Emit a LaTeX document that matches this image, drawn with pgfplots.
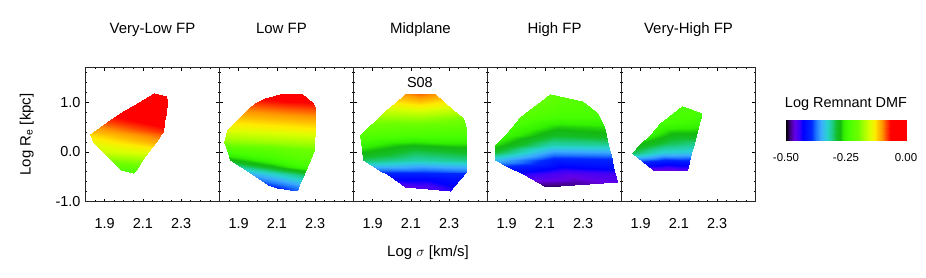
\documentclass[border=0pt]{standalone}
\usepackage{fontspec}
\setmainfont{Liberation Sans}
\usepackage{pgfplots}
\pgfplotsset{compat=1.18}
\pgfplotsset{
  colormap={dmf}{rgb255(0pt)=(0,0,0); rgb255(3pt)=(60,0,120); rgb255(7pt)=(100,0,230); rgb255(11pt)=(60,0,250); rgb255(14pt)=(0,0,255); rgb255(21pt)=(0,40,255); rgb255(25pt)=(30,120,255); rgb255(29pt)=(60,170,255); rgb255(34pt)=(40,210,210); rgb255(38pt)=(30,205,140); rgb255(42pt)=(20,190,40); rgb255(45pt)=(20,185,15); rgb255(48pt)=(50,240,0); rgb255(52pt)=(70,255,0); rgb255(60pt)=(110,255,0); rgb255(65pt)=(170,255,0); rgb255(70pt)=(220,255,0); rgb255(74pt)=(255,235,0); rgb255(77pt)=(255,190,0); rgb255(80pt)=(255,150,0); rgb255(84pt)=(255,60,0); rgb255(87pt)=(255,0,0); rgb255(100pt)=(255,0,0)},
  every axis/.append style={font=\fontsize{14.5}{17}\selectfont},
  panel/.style={
    width=134bp, height=134.4bp, scale only axis, anchor=south west,
    xmin=1.8, xmax=2.5, ymin=-1.0, ymax=1.7,
    xtick={1.9,2.1,2.3}, xticklabels={1.9,2.1,2.3},
    minor xtick={1.8,1.85,1.95,2.0,2.05,2.15,2.2,2.25,2.35,2.4,2.45,2.5},
    ytick={-1,0,1}, yticklabels={,,},
    minor ytick={-0.8,-0.6,-0.4,-0.2,0.2,0.4,0.6,0.8,1.2,1.4,1.6},
    tick align=inside, xtick pos=both, ytick pos=both,
    major tick length=3.2bp, minor tick length=1.8bp,
    tick style={black, line width=0.7bp},
    axis line style={black!85, line width=0.9bp},
    tick label style={font=\fontsize{14.5}{17}\selectfont},
    xticklabel style={yshift=-13bp},
    colormap name=dmf, point meta min=-0.5, point meta max=0,
    title style={at={(axis description cs:0.5,1)}, anchor=base, yshift=28.3bp, font=\fontsize{15}{18}\selectfont},
  },
  dmfsurf/.style={surf, shader=interp, mesh/cols=3, point meta=explicit},
}
\begin{document}
\begin{tikzpicture}
\path[use as bounding box] (0,0) rectangle (926bp,-278bp);

% Panel 1
\begin{axis}[panel, at={(85.5bp,-201.7bp)}, title={Very-Low FP},
  yticklabels={-1.0,0.0,1.0}, yticklabel style={xshift=-1.5bp},
  ylabel={Log R\textsubscript{e} [kpc]},
  ylabel style={at={(axis description cs:-0.439,0.5)}, anchor=center, font=\fontsize{15}{18}\selectfont}]
\addplot[dmfsurf] table[x=x, y=y, meta=c, row sep=\\] {
x y c\\
2.050 -0.430 -0.235\\ 2.050 -0.430 -0.235\\ 2.050 -0.430 -0.235\\
1.984 -0.363 -0.225\\ 2.023 -0.363 -0.223\\ 2.062 -0.363 -0.221\\
1.929 -0.150 -0.186\\ 2.015 -0.150 -0.182\\ 2.101 -0.150 -0.177\\
1.891 0.000 -0.158\\ 2.010 0.000 -0.152\\ 2.129 0.000 -0.146\\
1.838 0.205 -0.141\\ 2.002 0.205 -0.125\\ 2.166 0.205 -0.108\\
1.824 0.359 -0.123\\ 2.009 0.359 -0.104\\ 2.194 0.359 -0.086\\
1.841 0.406 -0.114\\ 2.022 0.406 -0.096\\ 2.203 0.406 -0.078\\
1.912 0.600 -0.082\\ 2.062 0.600 -0.067\\ 2.211 0.600 -0.052\\
1.980 0.787 -0.055\\ 2.099 0.787 -0.043\\ 2.218 0.787 -0.031\\
2.081 1.008 -0.028\\ 2.154 1.008 -0.025\\ 2.227 1.008 -0.021\\
2.133 1.122 -0.018\\ 2.177 1.122 -0.016\\ 2.221 1.122 -0.014\\
2.158 1.177 -0.015\\ 2.158 1.177 -0.015\\ 2.158 1.177 -0.015\\
};
\end{axis}

% Panel 2
\begin{axis}[panel, at={(219.5bp,-201.7bp)}, title={Low FP},
  title style={at={(axis description cs:0.462,1)}}]
\addplot[dmfsurf] table[x=x, y=y, meta=c, row sep=\\] {
x y c\\
2.203 -0.779 -0.379\\ 2.203 -0.779 -0.379\\ 2.203 -0.779 -0.379\\
2.099 -0.731 -0.400\\ 2.154 -0.731 -0.386\\ 2.208 -0.731 -0.373\\
2.055 -0.665 -0.392\\ 2.136 -0.665 -0.375\\ 2.216 -0.665 -0.357\\
1.969 -0.450 -0.351\\ 2.105 -0.450 -0.324\\ 2.240 -0.450 -0.297\\
1.910 -0.300 -0.313\\ 2.084 -0.300 -0.278\\ 2.257 -0.300 -0.244\\
1.855 -0.163 -0.279\\ 2.064 -0.163 -0.250\\ 2.272 -0.163 -0.221\\
1.839 0.038 -0.233\\ 2.067 0.038 -0.217\\ 2.295 0.038 -0.201\\
1.825 0.205 -0.188\\ 2.061 0.205 -0.181\\ 2.296 0.205 -0.174\\
1.838 0.440 -0.148\\ 2.068 0.440 -0.141\\ 2.297 0.440 -0.134\\
1.909 0.700 -0.114\\ 2.104 0.700 -0.108\\ 2.298 0.700 -0.102\\
1.956 0.875 -0.092\\ 2.128 0.875 -0.085\\ 2.299 0.875 -0.080\\
1.985 0.980 -0.078\\ 2.138 0.980 -0.070\\ 2.290 0.980 -0.066\\
2.038 1.076 -0.062\\ 2.149 1.076 -0.050\\ 2.259 1.076 -0.052\\
2.116 1.156 -0.052\\ 2.175 1.156 -0.040\\ 2.233 1.156 -0.045\\
};
\end{axis}

% Panel 3
\begin{axis}[panel, at={(353.5bp,-201.7bp)}, title={Midplane},
  xlabel={Log $\sigma$ [km/s]},
  xlabel style={at={(axis description cs:0.556,-0.382)}, anchor=center, font=\fontsize{15}{18}\selectfont}]
\addplot[dmfsurf] table[x=x, y=y, meta=c, row sep=\\] {
x y c\\
2.302 -0.785 -0.440\\ 2.302 -0.785 -0.440\\ 2.302 -0.785 -0.440\\
2.068 -0.699 -0.462\\ 2.194 -0.699 -0.452\\ 2.321 -0.699 -0.432\\
2.010 -0.550 -0.428\\ 2.183 -0.550 -0.428\\ 2.355 -0.550 -0.415\\
1.963 -0.430 -0.400\\ 2.173 -0.430 -0.400\\ 2.382 -0.430 -0.395\\
1.949 -0.397 -0.390\\ 2.169 -0.397 -0.390\\ 2.389 -0.397 -0.380\\
1.850 -0.163 -0.300\\ 2.120 -0.163 -0.318\\ 2.389 -0.163 -0.310\\
1.844 0.050 -0.265\\ 2.117 0.050 -0.290\\ 2.389 0.050 -0.280\\
1.836 0.339 -0.225\\ 2.113 0.339 -0.235\\ 2.389 0.339 -0.235\\
1.872 0.474 -0.210\\ 2.131 0.474 -0.215\\ 2.389 0.474 -0.220\\
1.926 0.675 -0.185\\ 2.149 0.675 -0.182\\ 2.372 0.675 -0.195\\
1.971 0.841 -0.158\\ 2.146 0.841 -0.150\\ 2.321 0.841 -0.162\\
2.020 1.000 -0.128\\ 2.146 1.000 -0.118\\ 2.272 1.000 -0.130\\
2.068 1.157 -0.100\\ 2.146 1.157 -0.090\\ 2.224 1.157 -0.100\\
};
\node[font=\fontsize{14.5}{17}\selectfont] at (axis cs:2.147,1.40) {S08};
\end{axis}

% Panel 4
\begin{axis}[panel, at={(487.5bp,-201.7bp)}, title={High FP}]
\addplot[dmfsurf] table[x=x, y=y, meta=c, row sep=\\] {
x y c\\
2.107 -0.699 -0.490\\ 2.107 -0.699 -0.490\\ 2.107 -0.699 -0.490\\
2.057 -0.598 -0.470\\ 2.267 -0.598 -0.475\\ 2.477 -0.598 -0.460\\
1.983 -0.450 -0.440\\ 2.226 -0.450 -0.460\\ 2.468 -0.450 -0.450\\
1.909 -0.300 -0.400\\ 2.184 -0.300 -0.430\\ 2.458 -0.300 -0.420\\
1.841 -0.163 -0.345\\ 2.145 -0.163 -0.405\\ 2.449 -0.163 -0.400\\
1.841 0.000 -0.290\\ 2.140 0.000 -0.360\\ 2.439 0.000 -0.355\\
1.841 0.139 -0.265\\ 2.136 0.139 -0.320\\ 2.430 0.139 -0.315\\
1.890 0.350 -0.250\\ 2.154 0.350 -0.288\\ 2.417 0.350 -0.280\\
1.926 0.506 -0.240\\ 2.167 0.506 -0.270\\ 2.407 0.506 -0.265\\
1.972 0.707 -0.225\\ 2.177 0.707 -0.240\\ 2.381 0.707 -0.240\\
1.995 0.775 -0.220\\ 2.184 0.775 -0.235\\ 2.372 0.775 -0.235\\
2.038 0.900 -0.215\\ 2.186 0.900 -0.228\\ 2.333 0.900 -0.230\\
2.080 1.022 -0.210\\ 2.187 1.022 -0.222\\ 2.294 1.022 -0.225\\
2.128 1.163 -0.215\\ 2.128 1.163 -0.215\\ 2.128 1.163 -0.215\\
};
\end{axis}

% Panel 5
\begin{axis}[panel, at={(621.5bp,-201.7bp)}, title={Very-High FP}]
\addplot[dmfsurf] table[x=x, y=y, meta=c, row sep=\\] {
x y c\\
1.966 -0.363 -0.465\\ 2.054 -0.370 -0.465\\ 2.141 -0.378 -0.460\\
1.912 -0.200 -0.400\\ 2.033 -0.200 -0.415\\ 2.153 -0.200 -0.410\\
1.856 -0.028 -0.300\\ 2.011 -0.028 -0.335\\ 2.165 -0.028 -0.340\\
1.899 0.150 -0.275\\ 2.038 0.150 -0.300\\ 2.177 0.150 -0.310\\
1.947 0.350 -0.255\\ 2.069 0.350 -0.280\\ 2.190 0.350 -0.280\\
2.001 0.574 -0.240\\ 2.103 0.574 -0.245\\ 2.205 0.574 -0.250\\
2.067 0.775 -0.235\\ 2.143 0.775 -0.235\\ 2.219 0.775 -0.240\\
2.115 0.922 -0.235\\ 2.115 0.922 -0.235\\ 2.115 0.922 -0.235\\
};
\end{axis}

% Colour bar
\begin{axis}[at={(786bp,-140.7bp)}, anchor=south west,
  width=120bp, height=20.7bp, scale only axis,
  xmin=-0.5, xmax=0, ymin=0, ymax=1,
  xtick={-0.5,-0.375,-0.25,-0.125,0}, xticklabels={-0.50,,-0.25,,0.00},
  ytick=\empty, xtick pos=both, xticklabel pos=lower, tick align=inside,
  major tick length=3bp,
  tick style={black, line width=0.7bp},
  axis line style={black!85, line width=0.9bp},
  xticklabel style={yshift=-9.5bp, font=\fontsize{11.5}{13}\selectfont},
  colormap name=dmf, point meta min=-0.5, point meta max=0,
  title={Log Remnant DMF},
  title style={at={(axis description cs:0.5,1)}, anchor=base, yshift=6.7bp, font=\fontsize{14.5}{17}\selectfont}]
\addplot[surf, shader=interp, mesh/cols=5, point meta=x] table[x=x, y=y, row sep=\\] {
x y\\
-0.5 0\\ -0.375 0\\ -0.25 0\\ -0.125 0\\ 0 0\\
-0.5 1\\ -0.375 1\\ -0.25 1\\ -0.125 1\\ 0 1\\
};
\end{axis}
\end{tikzpicture}
\end{document}
